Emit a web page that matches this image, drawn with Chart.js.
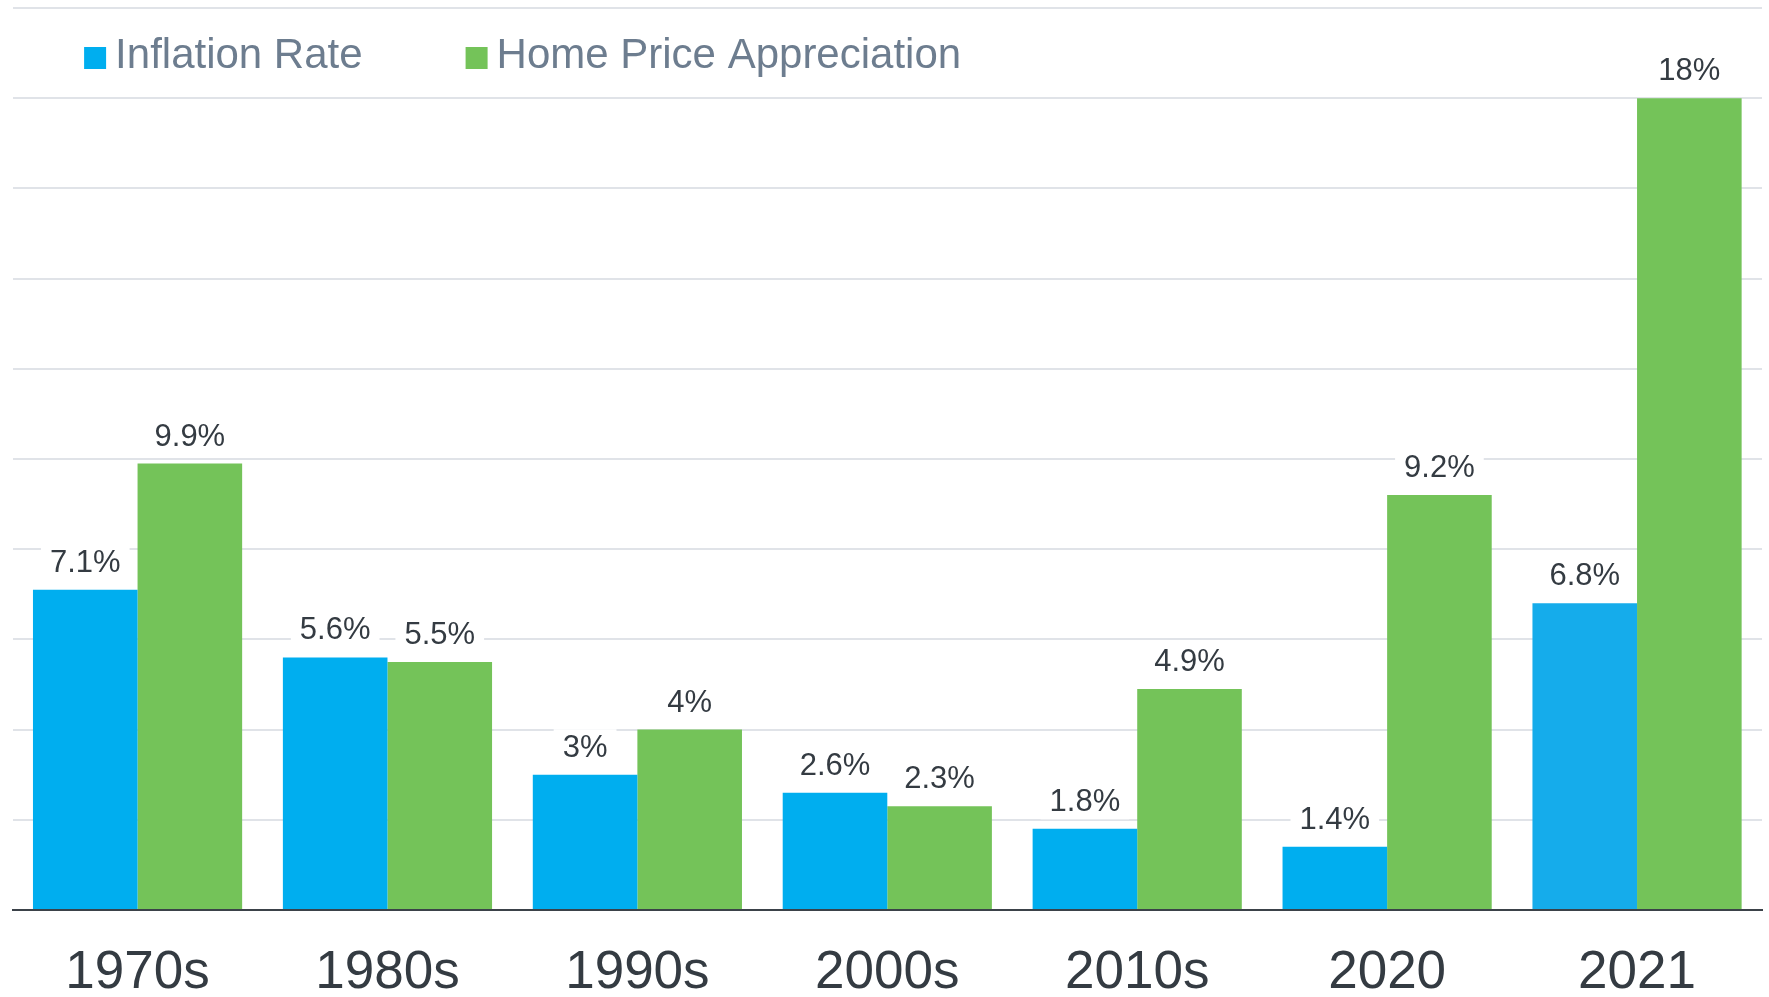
<!DOCTYPE html>
<html>
<head>
<meta charset="utf-8">
<script src="https://cdn.jsdelivr.net/npm/chart.js@4/dist/chart.umd.min.js"></script>
<style>
  html, body { margin: 0; padding: 0; background: #ffffff; overflow: hidden; }
  canvas { display: block; }
</style>
</head>
<body>
<canvas id="c" width="1769" height="997" style="width:1769px;height:997px"></canvas>
<script>
// ---- Data ----
const categories = ['1970s', '1980s', '1990s', '2000s', '2010s', '2020', '2021'];
const inflationRate = [7.1, 5.6, 3, 2.6, 1.8, 1.4, 6.8];
const homePriceAppreciation = [9.9, 5.5, 4, 2.3, 4.9, 9.2, 18];
const seriesNames = ['Inflation Rate', 'Home Price Appreciation'];
const yMin = 0;
const yMax = 20;
const yStep = 2;

// ---- Styles ----
const FONT = '"Liberation Sans", Arial, Helvetica, sans-serif';
const BLUE = '#00AEEF';
const BLUE_2021 = '#15ACEB';
const GREEN = '#74C359';
const GRID = '#e0e3e8';
const AXIS = '#3b4249';
const TEXT_DARK = '#343b42';
const LEGEND_TEXT = '#6d7d8f';

const blueColors = categories.map((c, i) => i === categories.length - 1 ? BLUE_2021 : BLUE);
const legendColors = [BLUE, GREEN];

const valueLabels = {
  id: 'valueLabels',
  afterDatasetsDraw(chart) {
    const ctx = chart.ctx;
    ctx.save();
    ctx.font = '31px ' + FONT;
    ctx.textAlign = 'center';
    ctx.textBaseline = 'middle';
    chart.data.datasets.forEach((ds, di) => {
      const meta = chart.getDatasetMeta(di);
      meta.data.forEach((bar, i) => {
        const txt = ds.data[i] + '%';
        const w = ctx.measureText(txt).width;
        const cy = bar.y - 26.5;
        ctx.fillStyle = '#ffffff';
        ctx.fillRect(bar.x - w / 2 - 9, cy - 19, w + 18, 36);
        ctx.fillStyle = TEXT_DARK;
        ctx.fillText(txt, bar.x, cy);
      });
    });
    ctx.restore();
  }
};

// Legend drawn inside the plot area, top-left
const insideLegend = {
  id: 'insideLegend',
  afterDatasetsDraw(chart) {
    const ctx = chart.ctx;
    const area = chart.chartArea;
    ctx.save();
    ctx.font = '42px ' + FONT;
    ctx.textAlign = 'left';
    ctx.textBaseline = 'middle';
    let x = area.left + 71.5;
    const midY = area.top + 48;
    chart.data.datasets.forEach((ds, i) => {
      ctx.fillStyle = legendColors[i];
      ctx.fillRect(x, midY - 9, 22, 22);
      ctx.fillStyle = LEGEND_TEXT;
      ctx.fillText(ds.label, x + 31, midY);
      x += 31 + ctx.measureText(ds.label).width + 103;
    });
    ctx.restore();
  }
};

new Chart(document.getElementById('c'), {
  type: 'bar',
  data: {
    labels: categories,
    datasets: [
      { label: seriesNames[0], data: inflationRate, backgroundColor: blueColors, borderWidth: 0,
        categoryPercentage: 0.837, barPercentage: 1.0 },
      { label: seriesNames[1], data: homePriceAppreciation, backgroundColor: GREEN, borderWidth: 0,
        categoryPercentage: 0.837, barPercentage: 1.0 }
    ]
  },
  options: {
    responsive: false,
    maintainAspectRatio: false,
    animation: false,
    devicePixelRatio: 1,
    layout: { padding: { left: 12.6, right: 7, top: 8, bottom: 0 } },
    scales: {
      x: {
        grid: { display: false, drawTicks: false },
        border: { display: true, color: AXIS, width: 2 },
        ticks: {
          color: TEXT_DARK,
          font: { family: FONT, size: 53, lineHeight: 1.0 },
          padding: 36.5,
          maxRotation: 0
        },
        afterFit(scale) { scale.height = 87; }
      },
      y: {
        min: yMin,
        max: yMax,
        ticks: { display: false, stepSize: yStep },
        border: { display: false },
        grid: {
          drawTicks: false,
          lineWidth: 2,
          color: (ctx) => (ctx.tick && ctx.tick.value === 0) ? 'rgba(0,0,0,0)' : GRID
        }
      }
    },
    plugins: {
      legend: { display: false },
      tooltip: { enabled: false },
      title: { display: false }
    }
  },
  plugins: [valueLabels, insideLegend]
});
</script>
</body>
</html>
